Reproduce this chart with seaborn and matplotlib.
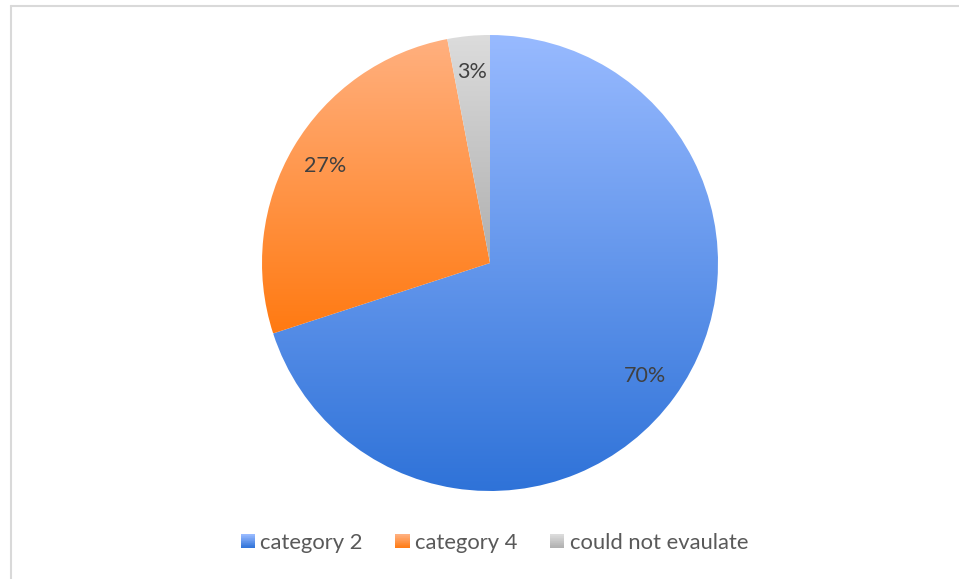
import numpy as np
import matplotlib
matplotlib.use("Agg")
import matplotlib.pyplot as plt
import seaborn as sns
from matplotlib.patches import Rectangle
from matplotlib.legend_handler import HandlerBase
from matplotlib.colors import to_rgb
from matplotlib.lines import Line2D

categories = ["category 2", "category 4", "could not evaulate"]
values = [70, 27, 3]
labels = ["70%", "27%", "3%"]
top_colors = ["#98BAFF", "#FFB07F", "#DCDCDC"]
bottom_colors = ["#2E72D8", "#FF7A12", "#AFAFAF"]

sns.set_theme(style="white")
plt.rcParams["font.family"] = ["Lato", "DejaVu Sans"]

W, H = 959, 579
fig = plt.figure(figsize=(W / 100, H / 100), dpi=100)
cx, cy, R = 490, 263, 228
ax = fig.add_axes([(cx - R) / W, (H - cy - R) / H, 2 * R / W, 2 * R / H])

wedges, _ = ax.pie(values, startangle=90, counterclock=False,
                   radius=1.0, wedgeprops=dict(linewidth=0))

def grad_image(c1, c2, n=256):
    a, b = np.array(to_rgb(c1)), np.array(to_rgb(c2))
    t = np.linspace(0, 1, n)[:, None]
    return (a * (1 - t) + b * t)[:, None, :]

for w, c1, c2 in zip(wedges, top_colors, bottom_colors):
    verts = w.get_path().vertices
    y0, y1 = verts[:, 1].min(), verts[:, 1].max()
    x0, x1 = verts[:, 0].min(), verts[:, 0].max()
    w.set_facecolor("none")
    im = ax.imshow(grad_image(c1, c2), extent=[x0, x1, y0, y1],
                   aspect="auto", origin="upper", zorder=1, interpolation="bilinear")
    im.set_clip_path(w)

# percentage labels
cum = np.cumsum([0] + values[:-1])
total = sum(values)
for v, c, lab in zip(values, cum, labels):
    ang = np.deg2rad(90 - 360 * (c + v / 2) / total)
    r = 0.84
    ax.text(r * np.cos(ang), r * np.sin(ang), lab, ha="center", va="center",
            fontsize=15.5, color="#404040", zorder=5)

ax.set_xlim(-1, 1)
ax.set_ylim(-1, 1)
ax.set_aspect("auto")
ax.axis("off")

class GradHandler(HandlerBase):
    def __init__(self, c1, c2):
        super().__init__()
        self.c1, self.c2 = np.array(to_rgb(c1)), np.array(to_rgb(c2))

    def create_artists(self, legend, orig_handle, xdescent, ydescent,
                       width, height, fontsize, trans):
        s = min(width, height)
        x0 = -xdescent + (width - s) / 2
        y0 = -ydescent + (height - s) / 2
        n = 20
        arts = []
        for i in range(n):
            t = i / (n - 1)
            col = self.c1 * (1 - t) + self.c2 * t
            arts.append(Rectangle((x0, y0 + s * (1 - (i + 1) / n)), s, s / n + 0.01,
                                  facecolor=col, edgecolor="none", transform=trans))
        return arts

handles = [Rectangle((0, 0), 1, 1) for _ in categories]
hmap = {h: GradHandler(a, b) for h, a, b in zip(handles, top_colors, bottom_colors)}
fig.legend(handles, categories, handler_map=hmap, loc="center",
           bbox_to_anchor=(494.5 / W, 1 - 543 / H), ncol=3, frameon=False,
           fontsize=15.8, labelcolor="#595959", handlelength=0.64, handleheight=0.64,
           handletextpad=0.25, columnspacing=1.5)

# outer chart frame (partially cropped)
fig.add_artist(Line2D([10.5 / W, 10.5 / W], [0, 1 - 5.5 / H], transform=fig.transFigure,
                      color="#D9D9D9", lw=1.5))
fig.add_artist(Line2D([10.5 / W, 1], [1 - 5.5 / H, 1 - 5.5 / H], transform=fig.transFigure,
                      color="#D9D9D9", lw=1.5))

fig.savefig("out.png", dpi=100)
